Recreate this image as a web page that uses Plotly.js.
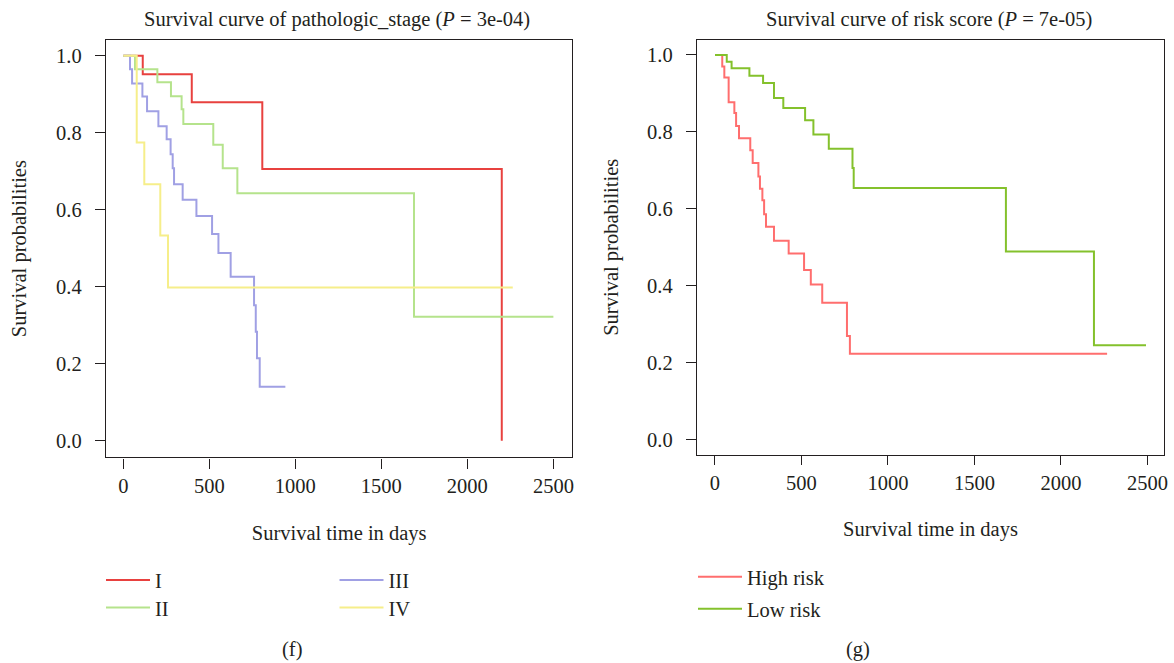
<!DOCTYPE html>
<html>
<head>
<meta charset="utf-8">
<script src="https://cdn.plot.ly/plotly-3.0.1.min.js"></script>
<style>html,body{margin:0;padding:0;background:#fff;}#chart{width:1174px;height:663px;}</style>
</head>
<body>
<div id="chart"></div>
<script>
// ---- Data ----
const stageNames = ["I", "II", "III", "IV"];
const stageI_t = [0, 113, 398, 808, 2200];
const stageI_s = [1, 0.952, 0.879, 0.706, 0];
const stageII_t = [0, 68, 198, 277, 339, 349, 523, 578, 663, 1690, 2500];
const stageII_s = [1, 0.965, 0.931, 0.895, 0.861, 0.823, 0.769, 0.708, 0.643, 0.322, 0.322];
const stageIII_t = [0, 39, 51, 111, 138, 204, 252, 275, 287, 295, 345, 425, 516, 553, 624, 760, 770, 777, 793, 942];
const stageIII_s = [1, 0.965, 0.928, 0.894, 0.856, 0.817, 0.783, 0.744, 0.708, 0.666, 0.626, 0.584, 0.537, 0.488, 0.426, 0.352, 0.283, 0.214, 0.140, 0.140];
const stageIV_t = [0, 78, 122, 215, 260, 2264];
const stageIV_s = [1, 0.775, 0.666, 0.533, 0.398, 0.398];

const riskNames = ["High risk", "Low risk"];
const highRisk_t = [0, 42, 54, 79, 112, 122, 139, 204, 218, 251, 260, 274, 284, 295, 341, 426, 515, 554, 620, 763, 780, 2267];
const highRisk_s = [1, 0.970, 0.941, 0.877, 0.849, 0.815, 0.783, 0.752, 0.719, 0.684, 0.652, 0.622, 0.586, 0.553, 0.517, 0.484, 0.441, 0.403, 0.356, 0.269, 0.223, 0.223];
const lowRisk_t = [0, 68, 96, 199, 278, 341, 395, 521, 569, 658, 795, 802, 1682, 2191, 2492];
const lowRisk_s = [1, 0.982, 0.965, 0.946, 0.927, 0.888, 0.862, 0.830, 0.793, 0.756, 0.706, 0.654, 0.489, 0.245, 0.245];

const xTicks = [0, 500, 1000, 1500, 2000, 2500];
const yTicks = [0, 0.2, 0.4, 0.6, 0.8, 1.0];

// ---- Styling ----
const W = 1174, H = 663;
const FONT = "Liberation Serif, Times New Roman, serif";
const INK = "#231F20";
const FS = 20.5;
const px = v => v / W;
const py = v => 1 - v / H;

const stageColors = ["#E8413F", "#B5E38C", "#A0A0E4", "#F6EE8A"];
const riskColors = ["#FF6E6E", "#84C12C"];

function km(t, s, name, color, xa, ya, legend) {
  return {
    type: "scatter", mode: "lines", x: t, y: s, name: name,
    line: {shape: "hv", color: color, width: 2},
    xaxis: xa, yaxis: ya, legend: legend,
    hoverinfo: "x+y+name"
  };
}

const traces = [
  km(stageI_t, stageI_s, stageNames[0], stageColors[0], "x", "y", "legend"),
  km(stageII_t, stageII_s, stageNames[1], stageColors[1], "x", "y", "legend2"),
  km(stageIII_t, stageIII_s, stageNames[2], stageColors[2], "x", "y", "legend3"),
  km(stageIV_t, stageIV_s, stageNames[3], stageColors[3], "x", "y", "legend4"),
  km(highRisk_t, highRisk_s, riskNames[0], riskColors[0], "x2", "y2", "legend5"),
  km(lowRisk_t, lowRisk_s, riskNames[1], riskColors[1], "x2", "y2", "legend6")
];

const axisBase = {
  showline: true, mirror: true, linecolor: INK, linewidth: 1.4,
  ticks: "outside", ticklen: 10, tickwidth: 1.3, tickcolor: INK,
  showgrid: false, zeroline: false, automargin: false,
  tickfont: {family: FONT, size: FS, color: INK}
};
const titleFont = {family: FONT, size: FS, color: INK};

function leg(xp, rowY) {
  return {
    orientation: "v", xanchor: "left", yanchor: "top",
    x: px(xp), y: py(rowY - 19),
    font: {family: FONT, size: FS, color: INK},
    bgcolor: "rgba(0,0,0,0)", borderwidth: 0, itemwidth: 44,
    itemclick: false, itemdoubleclick: false
  };
}

const layout = {
  width: W, height: H,
  margin: {l: 0, r: 0, t: 0, b: 0},
  paper_bgcolor: "#fff", plot_bgcolor: "#fff",
  font: {family: FONT, color: INK},
  showlegend: true,
  xaxis: Object.assign({}, axisBase, {
    domain: [px(106), px(572.3)], range: [-100.6, 2610], anchor: "y",
    tickvals: xTicks, ticklabelstandoff: 0,
    title: {text: "Survival time in days", font: titleFont, standoff: 29}
  }),
  yaxis: Object.assign({}, axisBase, {
    domain: [py(457.3), py(40)], range: [-0.043, 1.041], anchor: "x",
    tickvals: yTicks, tickformat: ".1f", ticklabelstandoff: 9,
    title: {text: "Survival probabilities", font: titleFont, standoff: 23}
  }),
  xaxis2: Object.assign({}, axisBase, {
    domain: [px(697), px(1164)], range: [-104, 2596], anchor: "y2",
    tickvals: xTicks, ticklabelstandoff: 0, ticklen: 9,
    title: {text: "Survival time in days", font: titleFont, standoff: 28}
  }),
  yaxis2: Object.assign({}, axisBase, {
    domain: [py(455), py(39.5)], range: [-0.04, 1.04], anchor: "x2",
    tickvals: yTicks, tickformat: ".1f", ticklabelstandoff: 9,
    title: {text: "Survival probabilities", font: titleFont, standoff: 22}
  }),
  legend: leg(101, 579.3),
  legend2: leg(101, 606.7),
  legend3: leg(334.5, 579.3),
  legend4: leg(334.5, 606.7),
  legend5: leg(693, 576),
  legend6: leg(693, 608),
  annotations: [
    {text: "Survival curve of pathologic_stage (<i>P</i> = 3e-04)", xref: "paper", yref: "paper",
     x: px(337), y: py(19), xanchor: "center", yanchor: "middle", showarrow: false, font: titleFont},
    {text: "Survival curve of risk score (<i>P</i> = 7e-05)", xref: "paper", yref: "paper",
     x: px(929), y: py(19), xanchor: "center", yanchor: "middle", showarrow: false, font: titleFont},
    {text: "(f)", xref: "paper", yref: "paper", x: px(292), y: py(649), xanchor: "center", yanchor: "middle",
     showarrow: false, font: titleFont},
    {text: "(g)", xref: "paper", yref: "paper", x: px(858), y: py(649), xanchor: "center", yanchor: "middle",
     showarrow: false, font: titleFont}
  ]
};

Plotly.newPlot("chart", traces, layout, {displayModeBar: false});
</script>
</body>
</html>
